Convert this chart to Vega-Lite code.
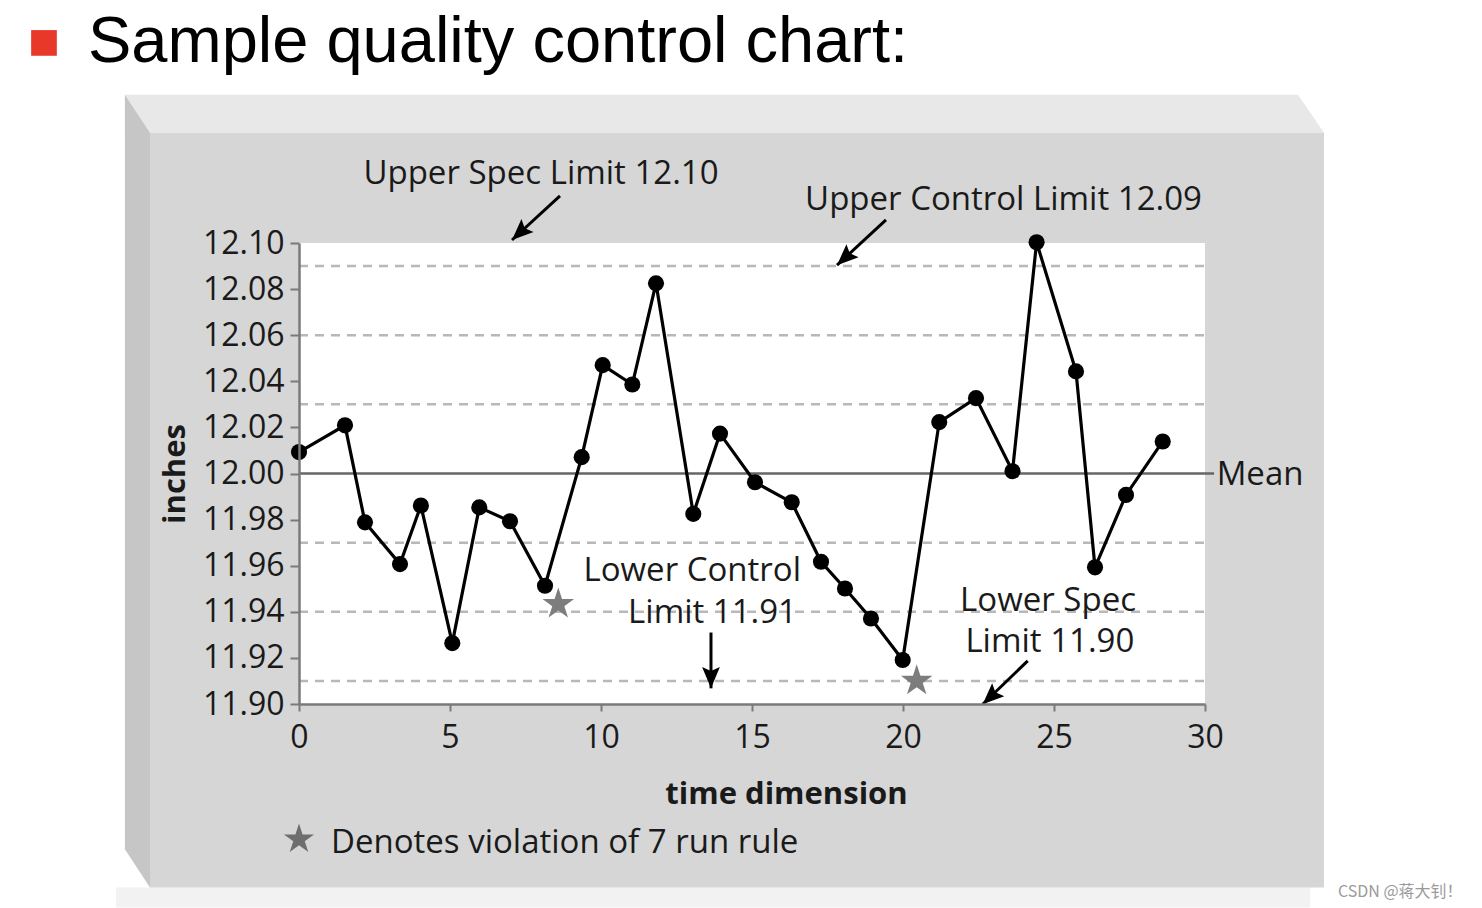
{
  "$schema": "https://vega.github.io/schema/vega-lite/v6.json",
  "width": 906,
  "height": 461,
  "autosize": {"type": "none"},
  "padding": {"left": 299, "top": 243, "right": 277, "bottom": 204},
  "background": "white",
  "view": {"stroke": null, "fill": null},
  "config": {
    "axis": {
      "grid": false,
      "domainColor": "#7a7a7a",
      "domainWidth": 2.5,
      "tickColor": "#7a7a7a",
      "tickWidth": 2,
      "labelFont": "Open Sans",
      "labelFontSize": 32,
      "labelColor": "#1a1a1a",
      "titleFont": "Open Sans",
      "titleFontWeight": "bold",
      "titleFontSize": 31,
      "titleColor": "#1a1a1a"
    },
    "text": {"font": "Open Sans", "fontSize": 33, "color": "#1a1a1a"}
  },
  "datasets": {
    "series": [
      {"x": 0.0, "y": 12.0093},
      {"x": 1.523, "y": 12.0209},
      {"x": 2.185, "y": 11.9788},
      {"x": 3.344, "y": 11.9607},
      {"x": 4.036, "y": 11.9861},
      {"x": 5.076, "y": 11.9264},
      {"x": 5.97, "y": 11.9853},
      {"x": 6.987, "y": 11.9793},
      {"x": 8.146, "y": 11.9513},
      {"x": 9.361, "y": 12.0071},
      {"x": 10.056, "y": 12.047},
      {"x": 11.037, "y": 12.0386},
      {"x": 11.821, "y": 12.0825},
      {"x": 13.056, "y": 11.9825},
      {"x": 13.94, "y": 12.0173},
      {"x": 15.099, "y": 11.9962},
      {"x": 16.315, "y": 11.9875},
      {"x": 17.285, "y": 11.9617},
      {"x": 18.079, "y": 11.9501},
      {"x": 18.94, "y": 11.9371},
      {"x": 19.99, "y": 11.9191},
      {"x": 21.2, "y": 12.0223},
      {"x": 22.417, "y": 12.0327},
      {"x": 23.626, "y": 12.001},
      {"x": 24.424, "y": 12.1003},
      {"x": 25.728, "y": 12.0443},
      {"x": 26.358, "y": 11.9593},
      {"x": 27.384, "y": 11.9907},
      {"x": 28.6, "y": 12.0139}
    ],
    "violations": [
      {"x": 8.586, "y": 11.9433},
      {"x": 20.454, "y": 11.91}
    ],
    "legendStar": [{"x": 0.0, "y": 11.8413}],
    "limits": [
      {"y": 12.09, "x": 0, "x2": 30},
      {"y": 12.06, "x": 0, "x2": 30},
      {"y": 12.03, "x": 0, "x2": 30},
      {"y": 11.97, "x": 0, "x2": 30},
      {"y": 11.94, "x": 0, "x2": 30},
      {"y": 11.91, "x": 0, "x2": 30}
    ],
    "mean": [{"y": 12.0, "x": 0, "x2": 30.3}],
    "plot": [{"x": 0, "x2": 30, "y": 11.9, "y2": 12.1}],
    "front": [{"x": -4.934, "x2": 33.94, "y": 12.1478, "y2": 11.8204}],
    "shadow": [{"x": -6.06, "x2": 33.48, "y": 11.8204, "y2": 11.8117}],
    "topBevel": [
      {"x": -5.765, "y": 12.1643, "y2": 12.1643},
      {"x": -4.934, "y": 12.1643, "y2": 12.1478},
      {"x": 33.079, "y": 12.1643, "y2": 12.1478},
      {"x": 33.94, "y": 12.1478, "y2": 12.1478}
    ],
    "leftBevel": [
      {"x": -5.765, "y": 12.1643, "y2": 11.837},
      {"x": -4.934, "y": 12.1478, "y2": 11.8204}
    ],
    "arrowsDiag": [
      {"x": 8.642, "y": 12.1204, "x2": 7.053, "y2": 12.1013},
      {"x": 19.437, "y": 12.11, "x2": 17.815, "y2": 12.0904},
      {"x": 24.129, "y": 11.9187, "x2": 22.639, "y2": 11.8999}
    ],
    "arrowsDown": [
      {"x": 13.642, "y": 11.931, "x2": 13.642, "y2": 11.9068}
    ],
    "headsDiag": [
      {"x": 7.053, "y": 12.1013},
      {"x": 17.815, "y": 12.0904},
      {"x": 22.639, "y": 11.8999}
    ],
    "headsDown": [
      {"x": 13.642, "y": 11.9068}
    ],
    "labelsCenter": [
      {"label": "Upper Spec Limit 12.10", "x": 8.013, "y": 12.1257},
      {"label": "Upper Control Limit 12.09", "x": 23.328, "y": 12.1143}
    ],
    "labelsRight": [
      {"label": "Lower Control", "x": 16.623, "y": 11.9532},
      {"label": "Limit 11.91", "x": 16.49, "y": 11.9353},
      {"label": "Lower Spec", "x": 27.715, "y": 11.9404},
      {"label": "Limit 11.90", "x": 27.659, "y": 11.9227}
    ],
    "labelsLeft": [
      {"label": "Mean", "x": 30.387, "y": 11.9948},
      {"label": "Denotes violation of 7 run rule", "x": 1.06, "y": 11.8352}
    ],
    "title": [{"label": "Sample quality control chart:", "x": -6.987, "y": 12.1787}],
    "bullet": [{"x": -8.444, "y": 12.1868}],
    "watermark": [{"label": "CSDN @蒋大钊！", "x": 34.404, "y": 11.8161}]
  },
  "encoding": {
    "x": {
      "field": "x",
      "type": "quantitative",
      "scale": {"domain": [0, 30], "nice": false, "zero": false},
      "axis": {
        "zindex": 2,
        "values": [0, 5, 10, 15, 20, 25, 30],
        "tickSize": 7,
        "labelPadding": 11,
        "labelFlush": false,
        "title": "time dimension",
        "titleX": 487,
        "titlePadding": 26
      }
    },
    "y": {
      "field": "y",
      "type": "quantitative",
      "scale": {"domain": [11.9, 12.1], "nice": false, "zero": false},
      "axis": {
        "zindex": 2,
        "values": [11.9, 11.92, 11.94, 11.96, 11.98, 12.0, 12.02, 12.04, 12.06, 12.08, 12.1],
        "format": ".2f",
        "tickSize": 9,
        "labelPadding": 6,
        "labelFlush": false,
        "title": "inches",
        "titlePadding": 11
      }
    }
  },
  "layer": [
    {
      "data": {"name": "shadow"},
      "mark": {"type": "rect", "color": "#f2f2f2"},
      "encoding": {"x2": {"field": "x2"}, "y2": {"field": "y2"}}
    },
    {
      "data": {"name": "topBevel"},
      "mark": {"type": "area", "color": "#e8e8e8"},
      "encoding": {"y2": {"field": "y2"}}
    },
    {
      "data": {"name": "leftBevel"},
      "mark": {"type": "area", "color": "#c6c6c6"},
      "encoding": {"y2": {"field": "y2"}}
    },
    {
      "data": {"name": "front"},
      "mark": {"type": "rect", "color": "#d6d6d6"},
      "encoding": {"x2": {"field": "x2"}, "y2": {"field": "y2"}}
    },
    {
      "data": {"name": "plot"},
      "mark": {"type": "rect", "color": "#ffffff"},
      "encoding": {"x2": {"field": "x2"}, "y2": {"field": "y2"}}
    },
    {
      "data": {"name": "limits"},
      "mark": {"type": "rule", "color": "#b8b8b8", "strokeWidth": 2.5, "strokeDash": [9, 7]},
      "encoding": {"x2": {"field": "x2"}}
    },
    {
      "data": {"name": "mean"},
      "mark": {"type": "rule", "color": "#666666", "strokeWidth": 2.5},
      "encoding": {"x2": {"field": "x2"}}
    },
    {
      "data": {"name": "series"},
      "mark": {"type": "line", "color": "#000000", "strokeWidth": 3.2},
      "encoding": {}
    },
    {
      "data": {"name": "series"},
      "mark": {"type": "point", "shape": "circle", "filled": true, "opacity": 1, "color": "#000000", "size": 260},
      "encoding": {}
    },
    {
      "data": {"name": "violations"},
      "mark": {"type": "point", "filled": true, "opacity": 1, "color": "#7d7d7d", "size": 1100,
        "shape": "M0,-1L0.2245,-0.309L0.951,-0.309L0.3633,0.118L0.588,0.809L0,0.382L-0.588,0.809L-0.3633,0.118L-0.951,-0.309L-0.2245,-0.309Z"},
      "encoding": {}
    },
    {
      "data": {"name": "legendStar"},
      "mark": {"type": "point", "filled": true, "opacity": 1, "color": "#6e6e6e", "size": 1000,
        "shape": "M0,-1L0.2245,-0.309L0.951,-0.309L0.3633,0.118L0.588,0.809L0,0.382L-0.588,0.809L-0.3633,0.118L-0.951,-0.309L-0.2245,-0.309Z"},
      "encoding": {}
    },
    {
      "data": {"name": "arrowsDiag"},
      "mark": {"type": "rule", "color": "#000000", "strokeWidth": 3},
      "encoding": {"x2": {"field": "x2"}, "y2": {"field": "y2"}}
    },
    {
      "data": {"name": "arrowsDown"},
      "mark": {"type": "rule", "color": "#000000", "strokeWidth": 3},
      "encoding": {"x2": {"field": "x2"}, "y2": {"field": "y2"}}
    },
    {
      "data": {"name": "headsDiag"},
      "mark": {"type": "point", "filled": true, "opacity": 1, "color": "#000000", "size": 1800, "angle": 227,
        "shape": "M0,0L-0.42,1L0,0.82L0.42,1Z"},
      "encoding": {}
    },
    {
      "data": {"name": "headsDown"},
      "mark": {"type": "point", "filled": true, "opacity": 1, "color": "#000000", "size": 1800, "angle": 180,
        "shape": "M0,0L-0.42,1L0,0.82L0.42,1Z"},
      "encoding": {}
    },
    {
      "data": {"name": "labelsCenter"},
      "mark": {"type": "text", "align": "center", "baseline": "alphabetic"},
      "encoding": {"text": {"field": "label"}}
    },
    {
      "data": {"name": "labelsRight"},
      "mark": {"type": "text", "align": "right", "baseline": "alphabetic"},
      "encoding": {"text": {"field": "label"}}
    },
    {
      "data": {"name": "labelsLeft"},
      "mark": {"type": "text", "align": "left", "baseline": "alphabetic"},
      "encoding": {"text": {"field": "label"}}
    },
    {
      "data": {"name": "title"},
      "mark": {"type": "text", "align": "left", "baseline": "alphabetic", "font": "Liberation Sans", "fontSize": 65, "color": "#000000"},
      "encoding": {"text": {"field": "label"}}
    },
    {
      "data": {"name": "bullet"},
      "mark": {"type": "point", "shape": "square", "filled": true, "opacity": 1, "color": "#e8382a", "size": 660},
      "encoding": {}
    },
    {
      "data": {"name": "watermark"},
      "mark": {"type": "text", "align": "left", "baseline": "alphabetic", "font": "Noto Sans CJK SC", "fontSize": 16, "color": "#9a9a9a"},
      "encoding": {"text": {"field": "label"}}
    }
  ]
}
